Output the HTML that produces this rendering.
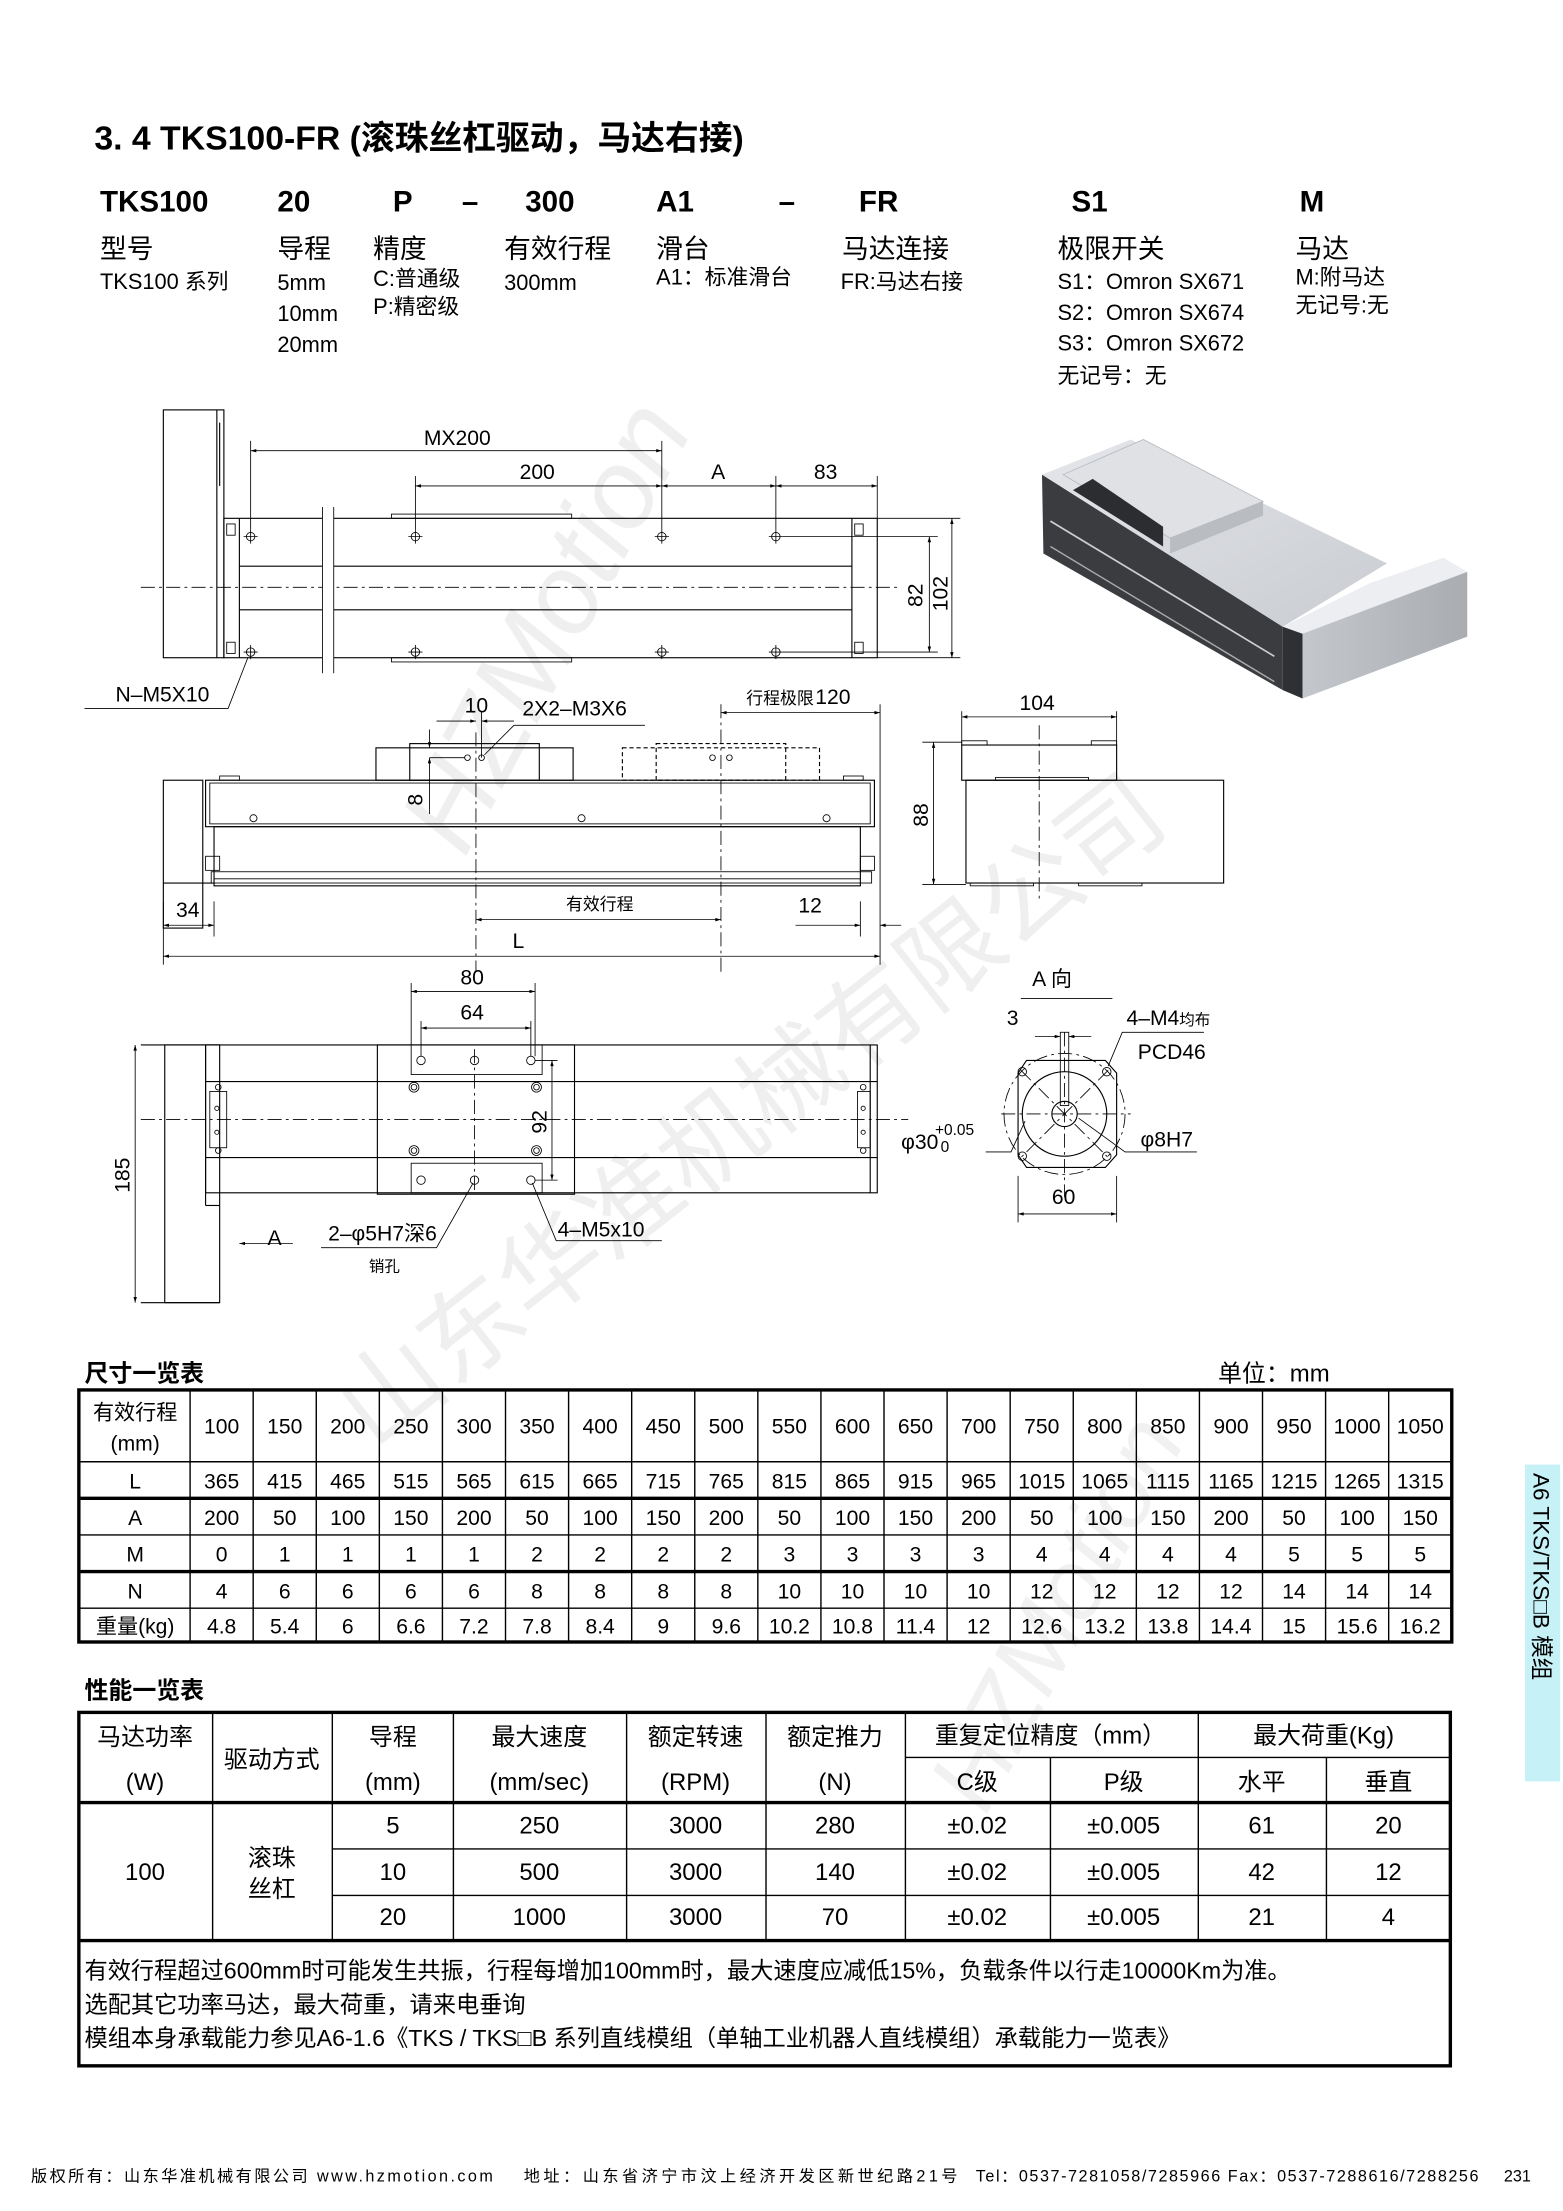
<!DOCTYPE html>
<html><head><meta charset="utf-8"><style>
html,body{margin:0;padding:0;background:#fff}
svg{display:block}
text{font-family:"Liberation Sans","Noto Sans CJK SC",sans-serif;fill:#000}
.n{font-family:"Liberation Sans Narrow","Liberation Sans","Noto Sans CJK SC",sans-serif}
.l{stroke:#000;stroke-width:0.8;fill:none}
.t{stroke:#000;stroke-width:0.6;fill:none}
.c{stroke:#000;stroke-width:0.6;fill:none;stroke-dasharray:10 3 2 3}
.tb{stroke:#000;stroke-width:1;fill:none}
.tk{stroke:#000;stroke-width:2.4;fill:none}
</style></head><body>
<svg width="1563" height="2211" viewBox="0 0 1110 1570" xmlns="http://www.w3.org/2000/svg">
<defs>
<marker id="a" viewBox="0 0 10 6" refX="10" refY="3" markerWidth="9" markerHeight="4" orient="auto-start-reverse"><path d="M0,0 L10,3 L0,6 z" fill="#000"/></marker>
</defs>
<!-- watermarks -->
<g fill="#ececec" style="font-family:'Liberation Serif',serif;font-style:italic" opacity="0.9">
<text x="330" y="610" font-size="80" transform="rotate(-62 330 610)" style="fill:#eeeeee">HZMotion</text>
<text x="700" y="1290" font-size="70" transform="rotate(-62 700 1290)" style="fill:#f0f0f0">HZMotion</text>
<text x="265" y="1030" font-size="72" transform="rotate(-38 265 1030)" style="fill:#eeeeee;font-family:'Noto Sans CJK SC',sans-serif;font-style:normal">山东华准机械有限公司</text>
</g>

<!-- title -->
<text x="67" y="106" font-size="24" font-weight="bold">3. 4 TKS100-FR (滚珠丝杠驱动，马达右接)</text>
<g font-size="21" font-weight="bold">
<text x="71" y="150">TKS100</text><text x="197" y="150">20</text><text x="279" y="150">P</text>
<text x="328" y="150">–</text><text x="373" y="150">300</text><text x="466" y="150">A1</text>
<text x="553" y="150">–</text><text x="610" y="150">FR</text><text x="761" y="150">S1</text><text x="923" y="150">M</text>
</g>
<g font-size="19">
<text x="71" y="183">型号</text><text x="197" y="183">导程</text><text x="265" y="183">精度</text>
<text x="358" y="183">有效行程</text><text x="466" y="183">滑台</text><text x="598" y="183">马达连接</text>
<text x="751" y="183">极限开关</text><text x="920" y="183">马达</text>
</g>
<g font-size="15.5">
<text x="71" y="205">TKS100 系列</text>
<text x="197" y="206">5mm</text><text x="197" y="228">10mm</text><text x="197" y="250">20mm</text>
<text x="265" y="203">C:普通级</text><text x="265" y="223">P:精密级</text>
<text x="358" y="206">300mm</text>
<text x="466" y="202">A1：标准滑台</text>
<text x="597" y="205">FR:马达右接</text>
<text x="751" y="205">S1：Omron SX671</text><text x="751" y="227">S2：Omron SX674</text>
<text x="751" y="249">S3：Omron SX672</text><text x="751" y="272">无记号：无</text>
<text x="920" y="202">M:附马达</text><text x="920" y="222">无记号:无</text>
</g>

<!-- ===== TOP VIEW ===== -->
<g>
<rect class="l" x="116" y="291" width="43" height="176"/>
<line class="l" x1="154" y1="291" x2="154" y2="467"/>
<line class="l" x1="156" y1="300" x2="156" y2="345"/>
<rect class="l" x="159" y="368" width="464" height="99"/>
<line class="l" x1="170" y1="368" x2="170" y2="467"/>
<line class="l" x1="605" y1="368" x2="605" y2="467"/>
<rect class="t" x="161" y="372" width="6" height="8"/><rect class="t" x="161" y="456" width="6" height="8"/>
<rect class="t" x="607" y="372" width="6" height="8"/><rect class="t" x="607" y="456" width="6" height="8"/>
<line class="l" x1="170" y1="402" x2="605" y2="402"/>
<line class="l" x1="170" y1="433" x2="605" y2="433"/>
<line class="c" x1="100" y1="417" x2="640" y2="417"/>
<rect fill="#fff" x="229" y="360" width="8" height="118"/>
<line class="t" x1="229" y1="360" x2="229" y2="478"/><line class="t" x1="237" y1="360" x2="237" y2="478"/>
<rect class="t" x="278" y="365" width="128" height="3"/><rect class="t" x="278" y="467" width="128" height="3"/>
<g class="t">
<circle cx="178" cy="381" r="3"/><circle cx="295" cy="381" r="3"/><circle cx="470" cy="381" r="3"/><circle cx="551" cy="381" r="3"/>
<circle cx="178" cy="463" r="3"/><circle cx="295" cy="463" r="3"/><circle cx="470" cy="463" r="3"/><circle cx="551" cy="463" r="3"/>
<path d="M173,381h10M178,376v10M290,381h10M295,376v10M465,381h10M470,376v10M546,381h10M551,376v10M173,463h10M178,458v10M290,463h10M295,458v10M465,463h10M470,458v10M546,463h10M551,458v10"/>
<line x1="178" y1="376" x2="178" y2="313"/><line x1="295" y1="376" x2="295" y2="338"/>
<line x1="470" y1="376" x2="470" y2="313"/><line x1="551" y1="376" x2="551" y2="338"/>
<line x1="623" y1="368" x2="623" y2="338"/>
<line x1="556" y1="381" x2="666" y2="381"/><line x1="556" y1="463" x2="666" y2="463"/>
<line x1="623" y1="368" x2="682" y2="368"/><line x1="623" y1="467" x2="682" y2="467"/>
</g>
<line class="t" x1="178" y1="320" x2="470" y2="320" marker-start="url(#a)" marker-end="url(#a)"/>
<line class="t" x1="295" y1="345" x2="470" y2="345" marker-start="url(#a)" marker-end="url(#a)"/>
<line class="t" x1="470" y1="345" x2="551" y2="345" marker-start="url(#a)" marker-end="url(#a)"/>
<line class="t" x1="551" y1="345" x2="623" y2="345" marker-start="url(#a)" marker-end="url(#a)"/>
<line class="t" x1="660" y1="381" x2="660" y2="463" marker-start="url(#a)" marker-end="url(#a)"/>
<line class="t" x1="676" y1="368" x2="676" y2="467" marker-start="url(#a)" marker-end="url(#a)"/>
<g class="n" font-size="15">
<text x="301" y="316">MX200</text><text x="369" y="340">200</text><text x="505" y="340">A</text><text x="578" y="340">83</text>
<text transform="translate(655 431) rotate(-90)">82</text><text transform="translate(673 434) rotate(-90)">102</text>
<text x="82" y="498">N–M5X10</text>
</g>
<path class="t" d="M60,503 H162 L176,467"/>
</g>

<!-- ===== SIDE VIEW ===== -->
<g>
<rect class="l" x="116" y="554" width="28" height="105"/>
<line class="l" x1="116" y1="627" x2="152" y2="627"/>
<rect class="l" x="146" y="554" width="475" height="33"/>
<rect class="t" x="149" y="556" width="469" height="29"/>
<rect class="t" x="156" y="551" width="14" height="3"/><rect class="t" x="599" y="551" width="14" height="3"/>
<rect class="l" x="152" y="587" width="459" height="42"/>
<rect class="t" x="146" y="608" width="10" height="10"/><rect class="t" x="611" y="608" width="10" height="10"/>
<rect class="t" x="150" y="619" width="469" height="8"/>
<line class="t" x1="152" y1="624" x2="611" y2="624"/>
<rect class="l" x="267" y="531" width="140" height="23"/>
<rect class="l" x="291" y="528" width="92" height="26" fill="#fff"/>
<rect class="l" x="442" y="531" width="140" height="23" stroke-dasharray="3 2"/>
<rect class="l" x="466" y="528" width="92" height="26" fill="#fff" stroke-dasharray="3 2"/>
<g class="t"><circle cx="180" cy="581" r="2.5"/><circle cx="413" cy="581" r="2.5"/><circle cx="587" cy="581" r="2.5"/>
<circle cx="332" cy="538" r="2"/><circle cx="342" cy="538" r="2"/><circle cx="506" cy="538" r="2"/><circle cx="518" cy="538" r="2"/></g>
<line class="c" x1="338" y1="520" x2="338" y2="690"/>
<line class="c" x1="512" y1="500" x2="512" y2="690"/>
<line class="t" x1="625" y1="500" x2="625" y2="685"/>
<line class="t" x1="116" y1="640" x2="116" y2="685"/>
<line class="t" x1="152" y1="640" x2="152" y2="665"/>
<line class="t" x1="611" y1="640" x2="611" y2="665"/>
<line class="t" x1="342" y1="505" x2="342" y2="538"/>
<line class="t" x1="310" y1="512" x2="338" y2="512" marker-end="url(#a)"/>
<line class="t" x1="365" y1="512" x2="342" y2="512" marker-end="url(#a)"/>
<line class="t" x1="305" y1="518" x2="305" y2="531" marker-end="url(#a)"/>
<line class="t" x1="305" y1="552" x2="305" y2="538" marker-end="url(#a)"/>
<line class="t" x1="305" y1="538" x2="330" y2="538"/>
<line class="t" x1="305" y1="552" x2="305" y2="578"/>
<path class="t" d="M458,515 H365 L344,536"/>
<line class="t" x1="512" y1="506" x2="625" y2="506" marker-start="url(#a)" marker-end="url(#a)"/>
<line class="t" x1="338" y1="653" x2="512" y2="653" marker-start="url(#a)" marker-end="url(#a)"/>
<line class="t" x1="116" y1="657" x2="152" y2="657" marker-start="url(#a)" marker-end="url(#a)"/>
<line class="t" x1="565" y1="657" x2="611" y2="657" marker-end="url(#a)"/>
<line class="t" x1="640" y1="657" x2="625" y2="657" marker-end="url(#a)"/>
<line class="t" x1="116" y1="679" x2="625" y2="679" marker-start="url(#a)" marker-end="url(#a)"/>
<g class="n" font-size="15">
<text x="330" y="506">10</text><text x="371" y="508">2X2–M3X6</text>
<text x="530" y="500" font-size="12">行程极限</text><text x="579" y="500">120</text>
<text transform="translate(300 572) rotate(-90)">8</text>
<text x="402" y="646" font-size="12">有效行程</text>
<text x="567" y="648">12</text><text x="125" y="651">34</text><text x="364" y="673">L</text>
</g>
</g>

<!-- ===== END VIEW ===== -->
<g>
<rect class="l" x="683" y="529" width="110" height="25"/>
<rect class="t" x="683" y="526" width="18" height="3"/><rect class="t" x="775" y="526" width="18" height="3"/>
<rect class="l" x="686" y="554" width="183" height="73"/>
<rect class="t" x="707" y="552" width="66" height="2"/>
<rect class="t" x="689" y="627" width="45" height="2"/><rect class="t" x="766" y="627" width="45" height="2"/>
<line class="c" x1="738" y1="515" x2="738" y2="638"/>
<line class="t" x1="683" y1="505" x2="683" y2="529"/><line class="t" x1="793" y1="505" x2="793" y2="529"/>
<line class="t" x1="683" y1="509" x2="793" y2="509" marker-start="url(#a)" marker-end="url(#a)"/>
<line class="t" x1="655" y1="527" x2="683" y2="527"/><line class="t" x1="655" y1="628" x2="686" y2="628"/>
<line class="t" x1="663" y1="527" x2="663" y2="628" marker-start="url(#a)" marker-end="url(#a)"/>
<text class="n" x="724" y="504" font-size="15">104</text>
<text class="n" transform="translate(659 587) rotate(-90)" font-size="15">88</text>
</g>

<!-- ===== 3D IMAGE ===== -->
<g>
<defs><linearGradient id="g1" x1="0" y1="0" x2="1" y2="1"><stop offset="0" stop-color="#e4e6ea"/><stop offset="1" stop-color="#c9ccd1"/></linearGradient>
<linearGradient id="g2" x1="0" y1="0" x2="1" y2="0"><stop offset="0" stop-color="#c4c7cc"/><stop offset="1" stop-color="#a9acb1"/></linearGradient></defs>
<!-- dark long side -->
<polygon points="740,337 911,445 911,490 741,393" fill="#3a3c40"/>
<line x1="746" y1="370" x2="905" y2="466" stroke="#cfcfcf" stroke-width="1.2"/>
<line x1="746" y1="388" x2="905" y2="484" stroke="#aaa" stroke-width="1"/>
<!-- body top -->
<polygon points="740,337 803,312 985,400 911,445" fill="url(#g1)"/>
<!-- motor block top -->
<polygon points="911,445 973,414 1025,396 1042,406 925,450" fill="#eceef1"/>
<!-- motor block front -->
<polygon points="925,450 1042,406 1042,452 925,496" fill="url(#g2)"/>
<polygon points="911,445 925,450 925,496 911,490" fill="#2e3033"/>
<!-- carriage -->
<polygon points="755,337 812,312 897,356 831,382" fill="#dfe1e5" stroke="#b8bbc0" stroke-width="0.6"/>
<polygon points="831,382 897,356 897,366 831,393" fill="#b9bcc1"/>
<polygon points="762,348 776,340 826,374 826,388" fill="#2b2d30"/>
</g>

<!-- ===== BOTTOM VIEW ===== -->
<g>
<rect class="l" x="117" y="742" width="39" height="183"/>
<line class="l" x1="100" y1="742" x2="156" y2="742"/>
<line class="l" x1="100" y1="925" x2="156" y2="925"/>
<line class="l" x1="146" y1="742" x2="146" y2="847"/>
<rect class="l" x="146" y="742" width="477" height="105"/>
<line class="l" x1="146" y1="847" x2="146" y2="856"/><line class="l" x1="146" y1="856" x2="156" y2="856"/>
<line class="l" x1="618" y1="742" x2="618" y2="847"/>
<line class="l" x1="146" y1="768" x2="623" y2="768"/>
<line class="l" x1="146" y1="822" x2="623" y2="822"/>
<rect class="t" x="149" y="775" width="12" height="40"/><rect class="t" x="609" y="775" width="9" height="40"/>
<line class="c" x1="100" y1="795" x2="645" y2="795"/>
<rect class="l" x="268" y="742" width="140" height="106" fill="#fff"/>
<rect class="t" x="292" y="742" width="93" height="21"/>
<rect class="t" x="292" y="826" width="93" height="21"/>
<line class="c" x1="337" y1="745" x2="337" y2="848"/>
<g class="t">
<circle cx="299" cy="753" r="3"/><circle cx="337" cy="753" r="3"/><circle cx="377" cy="753" r="3"/>
<circle cx="299" cy="838" r="3"/><circle cx="337" cy="838" r="3"/><circle cx="377" cy="838" r="3"/>
<circle cx="294" cy="772" r="3.5"/><circle cx="294" cy="772" r="2"/><circle cx="381" cy="772" r="3.5"/><circle cx="381" cy="772" r="2"/>
<circle cx="294" cy="817" r="3.5"/><circle cx="294" cy="817" r="2"/><circle cx="381" cy="817" r="3.5"/><circle cx="381" cy="817" r="2"/>
<circle cx="155" cy="772" r="2"/><circle cx="155" cy="817" r="2"/><circle cx="154" cy="787" r="1.5"/><circle cx="154" cy="804" r="1.5"/>
<circle cx="613" cy="772" r="2"/><circle cx="613" cy="817" r="2"/><circle cx="613" cy="787" r="1.5"/><circle cx="613" cy="804" r="1.5"/>
<line x1="292" y1="698" x2="292" y2="742"/><line x1="380" y1="698" x2="380" y2="750"/>
<line x1="299" y1="725" x2="299" y2="750"/><line x1="377" y1="725" x2="377" y2="750"/>
<line x1="380" y1="753" x2="396" y2="753"/><line x1="380" y1="838" x2="396" y2="838"/>
</g>
<line class="t" x1="292" y1="704" x2="380" y2="704" marker-start="url(#a)" marker-end="url(#a)"/>
<line class="t" x1="299" y1="730" x2="377" y2="730" marker-start="url(#a)" marker-end="url(#a)"/>
<line class="t" x1="392" y1="753" x2="392" y2="838" marker-start="url(#a)" marker-end="url(#a)"/>
<line class="t" x1="96" y1="742" x2="96" y2="925" marker-start="url(#a)" marker-end="url(#a)"/>
<line class="t" x1="208" y1="883" x2="170" y2="883" marker-end="url(#a)" stroke-width="1.2"/>
<path class="t" d="M228,886 H310 L336,840"/>
<path class="t" d="M470,881 H395 L378,840"/>
<g class="n" font-size="15">
<text x="327" y="699">80</text><text x="327" y="724">64</text>
<text transform="translate(388 805) rotate(-90)">92</text>
<text transform="translate(92 847) rotate(-90)">185</text>
<text x="190" y="884">A</text>
<text x="233" y="881">2–φ5H7深6</text>
<text x="262" y="903" font-size="11">销孔</text>
<text x="396" y="878">4–M5x10</text>
</g>
</g>

<!-- ===== A VIEW ===== -->
<g>
<path class="l" d="M723,762 L729,753 L785,753 L793,762 L793,820 L785,829 L729,829 L723,820 Z"/>
<circle class="c" cx="756" cy="791" r="43"/>
<circle class="l" cx="756" cy="791" r="30"/>
<circle class="l" cx="756" cy="791" r="9"/>
<rect class="t" x="753" y="733" width="6" height="52"/>
<line class="c" x1="711" y1="791" x2="803" y2="791"/>
<line class="c" x1="756" y1="733" x2="756" y2="850"/>
<line class="c" x1="725" y1="760" x2="787" y2="822"/><line class="c" x1="787" y1="760" x2="725" y2="822"/>
<g class="t"><circle cx="726" cy="761" r="3"/><circle cx="786" cy="761" r="3"/><circle cx="726" cy="821" r="3"/><circle cx="786" cy="821" r="3"/></g>
<line class="t" x1="723" y1="835" x2="723" y2="868"/><line class="t" x1="793" y1="835" x2="793" y2="868"/>
<line class="t" x1="723" y1="862" x2="793" y2="862" marker-start="url(#a)" marker-end="url(#a)"/>
<line class="t" x1="735" y1="736" x2="753" y2="736" marker-end="url(#a)"/>
<line class="t" x1="775" y1="736" x2="759" y2="736" marker-end="url(#a)"/>
<path class="t" d="M855,733 H797 L787,757"/>
<path class="t" d="M700,818 H718 L728,796"/>
<path class="t" d="M850,818 H799 L766,794"/>
<line class="t" x1="725" y1="709" x2="790" y2="709"/>
<g class="n" font-size="15">
<text x="733" y="700">A 向</text><text x="715" y="728">3</text>
<text x="800" y="728">4–M4<tspan font-size="11">均布</tspan></text>
<text x="808" y="752">PCD46</text>
<text x="640" y="816">φ30</text><text x="664" y="806" font-size="11">+0.05</text><text x="668" y="818" font-size="11">0</text>
<text x="810" y="814">φ8H7</text><text x="747" y="855">60</text>
</g>
</g>

<!-- ===== DIMENSION TABLE ===== -->
<text x="60" y="981" font-size="17" font-weight="bold">尺寸一览表</text>
<text x="865" y="981" font-size="17">单位：mm</text>
<g>
<rect class="tk" x="56" y="987" width="975" height="179"/>
<g class="tb">
<line x1="56" y1="1038" x2="1031" y2="1038"/>
<line x1="56" y1="1090" x2="1031" y2="1090"/>
<line x1="56" y1="1142" x2="1031" y2="1142"/>
</g>
<g class="tk"><line x1="56" y1="1064" x2="1031" y2="1064"/><line x1="56" y1="1116" x2="1031" y2="1116"/></g>
<g class="tb">
<line x1="135" y1="987" x2="135" y2="1166"/>
<line x1="179.8" y1="987" x2="179.8" y2="1166"/><line x1="224.6" y1="987" x2="224.6" y2="1166"/><line x1="269.4" y1="987" x2="269.4" y2="1166"/><line x1="314.2" y1="987" x2="314.2" y2="1166"/><line x1="359" y1="987" x2="359" y2="1166"/><line x1="403.8" y1="987" x2="403.8" y2="1166"/><line x1="448.6" y1="987" x2="448.6" y2="1166"/><line x1="493.4" y1="987" x2="493.4" y2="1166"/><line x1="538.2" y1="987" x2="538.2" y2="1166"/><line x1="583" y1="987" x2="583" y2="1166"/><line x1="627.8" y1="987" x2="627.8" y2="1166"/><line x1="672.6" y1="987" x2="672.6" y2="1166"/><line x1="717.4" y1="987" x2="717.4" y2="1166"/><line x1="762.2" y1="987" x2="762.2" y2="1166"/><line x1="807" y1="987" x2="807" y2="1166"/><line x1="851.8" y1="987" x2="851.8" y2="1166"/><line x1="896.6" y1="987" x2="896.6" y2="1166"/><line x1="941.4" y1="987" x2="941.4" y2="1166"/><line x1="986.2" y1="987" x2="986.2" y2="1166"/>
</g>
<g font-size="15" text-anchor="middle" class="n">
<text x="96" y="1008">有效行程</text><text x="96" y="1030">(mm)</text>
<text x="96" y="1057">L</text><text x="96" y="1083">A</text><text x="96" y="1109">M</text><text x="96" y="1135">N</text><text x="96" y="1160">重量(kg)</text>
</g>
<g font-size="15" text-anchor="middle" class="n">
<g transform="translate(0 1018)"><text x="157.4">100</text><text x="202.2">150</text><text x="247">200</text><text x="291.8">250</text><text x="336.6">300</text><text x="381.4">350</text><text x="426.2">400</text><text x="471">450</text><text x="515.8">500</text><text x="560.6">550</text><text x="605.4">600</text><text x="650.2">650</text><text x="695">700</text><text x="739.8">750</text><text x="784.6">800</text><text x="829.4">850</text><text x="874.2">900</text><text x="919">950</text><text x="963.8">1000</text><text x="1008.6">1050</text></g>
<g transform="translate(0 1057)"><text x="157.4">365</text><text x="202.2">415</text><text x="247">465</text><text x="291.8">515</text><text x="336.6">565</text><text x="381.4">615</text><text x="426.2">665</text><text x="471">715</text><text x="515.8">765</text><text x="560.6">815</text><text x="605.4">865</text><text x="650.2">915</text><text x="695">965</text><text x="739.8">1015</text><text x="784.6">1065</text><text x="829.4">1115</text><text x="874.2">1165</text><text x="919">1215</text><text x="963.8">1265</text><text x="1008.6">1315</text></g>
<g transform="translate(0 1083)"><text x="157.4">200</text><text x="202.2">50</text><text x="247">100</text><text x="291.8">150</text><text x="336.6">200</text><text x="381.4">50</text><text x="426.2">100</text><text x="471">150</text><text x="515.8">200</text><text x="560.6">50</text><text x="605.4">100</text><text x="650.2">150</text><text x="695">200</text><text x="739.8">50</text><text x="784.6">100</text><text x="829.4">150</text><text x="874.2">200</text><text x="919">50</text><text x="963.8">100</text><text x="1008.6">150</text></g>
<g transform="translate(0 1109)"><text x="157.4">0</text><text x="202.2">1</text><text x="247">1</text><text x="291.8">1</text><text x="336.6">1</text><text x="381.4">2</text><text x="426.2">2</text><text x="471">2</text><text x="515.8">2</text><text x="560.6">3</text><text x="605.4">3</text><text x="650.2">3</text><text x="695">3</text><text x="739.8">4</text><text x="784.6">4</text><text x="829.4">4</text><text x="874.2">4</text><text x="919">5</text><text x="963.8">5</text><text x="1008.6">5</text></g>
<g transform="translate(0 1135)"><text x="157.4">4</text><text x="202.2">6</text><text x="247">6</text><text x="291.8">6</text><text x="336.6">6</text><text x="381.4">8</text><text x="426.2">8</text><text x="471">8</text><text x="515.8">8</text><text x="560.6">10</text><text x="605.4">10</text><text x="650.2">10</text><text x="695">10</text><text x="739.8">12</text><text x="784.6">12</text><text x="829.4">12</text><text x="874.2">12</text><text x="919">14</text><text x="963.8">14</text><text x="1008.6">14</text></g>
<g transform="translate(0 1160)"><text x="157.4">4.8</text><text x="202.2">5.4</text><text x="247">6</text><text x="291.8">6.6</text><text x="336.6">7.2</text><text x="381.4">7.8</text><text x="426.2">8.4</text><text x="471">9</text><text x="515.8">9.6</text><text x="560.6">10.2</text><text x="605.4">10.8</text><text x="650.2">11.4</text><text x="695">12</text><text x="739.8">12.6</text><text x="784.6">13.2</text><text x="829.4">13.8</text><text x="874.2">14.4</text><text x="919">15</text><text x="963.8">15.6</text><text x="1008.6">16.2</text></g>
</g>
</g>

<!-- ===== PERFORMANCE TABLE ===== -->
<text x="60" y="1206" font-size="17" font-weight="bold">性能一览表</text>
<g>
<rect class="tk" x="56" y="1216" width="974" height="251"/>
<line class="tk" x1="56" y1="1280" x2="1030" y2="1280"/>
<line class="tk" x1="56" y1="1378" x2="1030" y2="1378"/>
<g class="tb">
<line x1="643" y1="1248" x2="1030" y2="1248"/>
<line x1="236" y1="1313" x2="1030" y2="1313"/><line x1="236" y1="1346" x2="1030" y2="1346"/>
<line x1="151" y1="1216" x2="151" y2="1378"/><line x1="236" y1="1216" x2="236" y2="1378"/>
<line x1="322" y1="1216" x2="322" y2="1378"/><line x1="445" y1="1216" x2="445" y2="1378"/>
<line x1="544" y1="1216" x2="544" y2="1378"/><line x1="643" y1="1216" x2="643" y2="1378"/>
<line x1="746" y1="1248" x2="746" y2="1378"/><line x1="851" y1="1216" x2="851" y2="1378"/>
<line x1="942" y1="1248" x2="942" y2="1378"/>
</g>
<g font-size="17" text-anchor="middle" class="n">
<text x="103" y="1239">马达功率</text><text x="103" y="1271">(W)</text>
<text x="193" y="1255">驱动方式</text>
<text x="279" y="1239">导程</text><text x="279" y="1271">(mm)</text>
<text x="383" y="1239">最大速度</text><text x="383" y="1271">(mm/sec)</text>
<text x="494" y="1239">额定转速</text><text x="494" y="1271">(RPM)</text>
<text x="593" y="1239">额定推力</text><text x="593" y="1271">(N)</text>
<text x="746" y="1238">重复定位精度（mm）</text>
<text x="694" y="1271">C级</text><text x="798" y="1271">P级</text>
<text x="940" y="1238">最大荷重(Kg)</text>
<text x="896" y="1271">水平</text><text x="986" y="1271">垂直</text>
<text x="103" y="1335">100</text><text x="193" y="1325">滚珠</text><text x="193" y="1347">丝杠</text>
<g transform="translate(0 1302)"><text x="279">5</text><text x="383">250</text><text x="494">3000</text><text x="593">280</text><text x="694">±0.02</text><text x="798">±0.005</text><text x="896">61</text><text x="986">20</text></g>
<g transform="translate(0 1335)"><text x="279">10</text><text x="383">500</text><text x="494">3000</text><text x="593">140</text><text x="694">±0.02</text><text x="798">±0.005</text><text x="896">42</text><text x="986">12</text></g>
<g transform="translate(0 1367)"><text x="279">20</text><text x="383">1000</text><text x="494">3000</text><text x="593">70</text><text x="694">±0.02</text><text x="798">±0.005</text><text x="896">21</text><text x="986">4</text></g>
</g>
<g font-size="16.5" class="n">
<text x="60" y="1405">有效行程超过600mm时可能发生共振，行程每增加100mm时，最大速度应减低15%，负载条件以行走10000Km为准。</text>
<text x="60" y="1429">选配其它功率马达，最大荷重，请来电垂询</text>
<text x="60" y="1453">模组本身承载能力参见A6-1.6《TKS / TKS□B 系列直线模组（单轴工业机器人直线模组）承载能力一览表》</text>
</g>
</g>

<!-- side tab -->
<rect x="1083" y="1040" width="25" height="225" fill="#c5f1f7"/>
<text transform="translate(1089 1046) rotate(90)" font-size="16">A6 TKS/TKS□B 模组</text>

<!-- footer -->
<g font-size="11.5" style="font-family:'Liberation Mono','Noto Sans CJK SC',monospace">
<text x="22" y="1549" textLength="328">版权所有：山东华准机械有限公司 www.hzmotion.com</text>
<text x="372" y="1549" textLength="308">地址：山东省济宁市汶上经济开发区新世纪路21号</text>
<text x="693" y="1549" textLength="357">Tel：0537-7281058/7285966 Fax：0537-7288616/7288256</text>
<text x="1068" y="1549">231</text>
</g>
</svg>
</body></html>
